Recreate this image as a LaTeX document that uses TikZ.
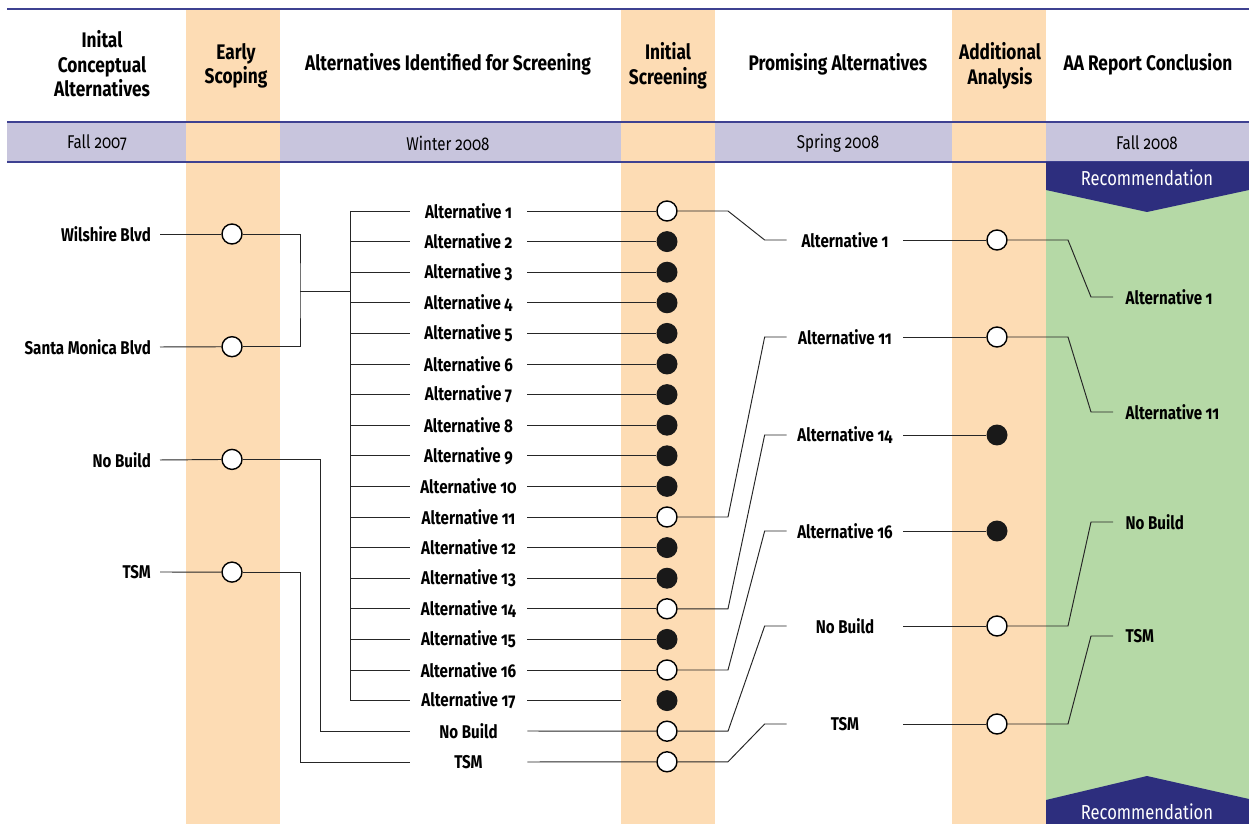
\documentclass[tikz,border=0pt]{standalone}
\usepackage{fontspec}
\setmainfont{Fira Sans}[Numbers=OldStyle, FakeStretch=0.82]
\usetikzlibrary{calc}
\usetikzlibrary{positioning}
\definecolor{peach}{HTML}{FDDCB4}
\definecolor{lilac}{HTML}{C8C5DD}
\definecolor{mint}{HTML}{B5D9A6}
\definecolor{navy}{HTML}{2D2E7E}
\definecolor{rulecol}{HTML}{3E4191}
\tikzstyle{conn} = [line width = 0.55pt, black!85]
\tikzstyle{keep} = [circle, draw, fill = white, line width = 0.8pt, minimum size = 0.4cm, inner sep = 0pt]
\tikzstyle{drop} = [circle, fill = black!90, minimum size = 0.42cm, inner sep = 0pt]
\tikzstyle{lbl} = [%
					font = \bfseries\fontsize{10.5}{12}\selectfont,
					inner sep = 1pt]
\tikzstyle{head} = [%
					font = \bfseries\fontsize{12}{14}\selectfont,
					align = center]
\tikzstyle{season} = [font = \fontsize{10.5}{12}\selectfont]

\begin{document}
\begin{tikzpicture}[x=0.02cm, y=-0.02cm]
	\useasboundingbox (0,0) rectangle (1249,824);
	
	% Bands
	\fill[lilac] (7,122) rectangle (1249,162);
	\foreach \a in {186,621,952}
	{
		\fill[peach] (\a,9) rectangle ++(94,815);
	};
	\fill[mint] (1046,162) rectangle (1249,824);
	\foreach \y in {9,122,162}
		\draw[rulecol, line width = 0.6pt] (7,\y) -- (1249,\y);
	
	% Recommendation
	\fill[navy] (1046,162) -- (1249,162) -- (1249,190) -- (1147,212) -- (1046,190) -- cycle;
	\fill[navy] (1046,824) -- (1046,800) -- (1147,776) -- (1249,799) -- (1249,824) -- cycle;
	\node[season, white, font = \fontsize{11.5}{13}\selectfont] (rtop) at (1147,178) {Recommendation};
	\node[season, white, font = \fontsize{11.5}{13}\selectfont] (rbot) at (1147,812) {Recommendation};
	
	% Headings
	\node[head] (h1) at (102,64) {Inital\\Conceptual\\Alternatives};
	\node[head] (h2) at (236,66) {Early\\Scoping};
	\node[head] (h3) at (448,64) {Alternatives Identified for Screening};
	\node[head] (h4) at (668,66) {Initial\\Screening};
	\node[head] (h5) at (838,64) {Promising Alternatives};
	\node[head] (h6) at (1000,66) {Additional\\Analysis};
	\node[head] (h7) at (1148,64) {AA Report Conclusion};
	\node[season] (d1) at (97,143) {Fall 2007};
	\node[season] (d2) at (448,143) {Winter 2008};
	\node[season] (d3) at (838,143) {Spring 2008};
	\node[season] (d4) at (1147,143) {Fall 2008};
	
	% Initial conceptual alternatives
	\node[lbl, anchor = east, inner xsep = 5pt] (c1) at (160,234) {Wilshire Blvd};
	\node[lbl, anchor = east, inner xsep = 5pt] (c2) at (160,347) {Santa Monica Blvd};
	\node[lbl, anchor = east, inner xsep = 5pt] (c3) at (160,460) {No Build};
	\node[lbl, anchor = east, inner xsep = 5pt] (c4) at (160,572) {TSM};
	\foreach \i in {1,...,4}
	{
		\node[keep] (e\i) at (232,{234+(\i-1)*112.7}) {};
		\draw[conn] (c\i.east) -- (e\i);
	};
	
	% Alternatives identified for screening
	\foreach \i in {1,...,17}
	{
		\node[lbl, minimum width = 2.34cm] (a\i) at (468.5,{211+(\i-1)*30.6}) {Alternative \i};
	};
	\node[lbl, minimum width = 2.34cm] (a18) at (468.5,731) {No Build};
	\node[lbl, minimum width = 2.34cm] (a19) at (468.5,762) {TSM};
	
	\coordinate (j) at (300,291);
	\coordinate (bus) at (350,291);
	\coordinate (nbx) at (320,0);
	\coordinate (tx) at (997,0);
	\draw[conn] (e1) -| (j) |- (e2);
	\draw[conn] (j) -- (bus);
	\draw[conn] (a1.west -| bus) -- (a17.west -| bus);
	\foreach \i in {1,...,17}
		\draw[conn] (a\i.west -| bus) -- (a\i.west);
	\draw[conn] (e3) -- (e3 -| nbx) -- (a18.west -| nbx) -- (a18.west);
	\draw[conn] (e4) -- (e4 -| j) -- (a19.west -| j) -- (a19.west);
	
	% Initial screening
	\foreach \i/\k in {1/keep,2/drop,3/drop,4/drop,5/drop,6/drop,7/drop,8/drop,9/drop,10/drop,
		11/keep,12/drop,13/drop,14/keep,15/drop,16/keep,17/drop,18/keep,19/keep}
	{
		\node[\k] (s\i) at (667,{211+(\i-1)*30.6}) {};
	};
	\foreach \i in {1,...,16,18,19}
		\draw[conn] (a\i.east) -- (s\i);
	\draw[conn] (a17.east) -- (621,{211+16*30.6});
	
	% Promising alternatives
	\node[lbl, minimum width = 2.32cm] (p1) at (845,240) {Alternative 1};
	\node[lbl, minimum width = 2.32cm] (p11) at (845,337) {Alternative 11};
	\node[lbl, minimum width = 2.32cm] (p14) at (845,435) {Alternative 14};
	\node[lbl, minimum width = 2.32cm] (p16) at (845,531) {Alternative 16};
	\node[lbl, minimum width = 2.32cm] (p18) at (845,626) {No Build};
	\node[lbl, minimum width = 2.32cm] (p19) at (845,724) {TSM};
	\foreach \i in {1,11,14,16,18,19}
		\draw[conn] (s\i) -- ++(61,0) -- ($(p\i.west)+(-22,0)$) -- (p\i.west);
	
	% Additional analysis
	\foreach \i/\k in {1/keep,11/keep,14/drop,16/drop,18/keep,19/keep}
	{
		\node[\k] (t\i) at (tx |- p\i.center) {};
		\draw[conn] (p\i.east) -- (t\i);
	};
	
	% AA report conclusion
	\node[lbl, anchor = west, inner xsep = 7pt] (f1) at (1113,297) {Alternative 1};
	\node[lbl, anchor = west, inner xsep = 7pt] (f11) at (1113,412) {Alternative 11};
	\node[lbl, anchor = west, inner xsep = 7pt] (f18) at (1113,522) {No Build};
	\node[lbl, anchor = west, inner xsep = 7pt] (f19) at (1113,636) {TSM};
	\foreach \i in {1,11,18,19}
		\draw[conn] (t\i) -- ++(71,0) -- ($(f\i.west)+(-22,0)$) -- (f\i.west);

\end{tikzpicture}
\end{document}
